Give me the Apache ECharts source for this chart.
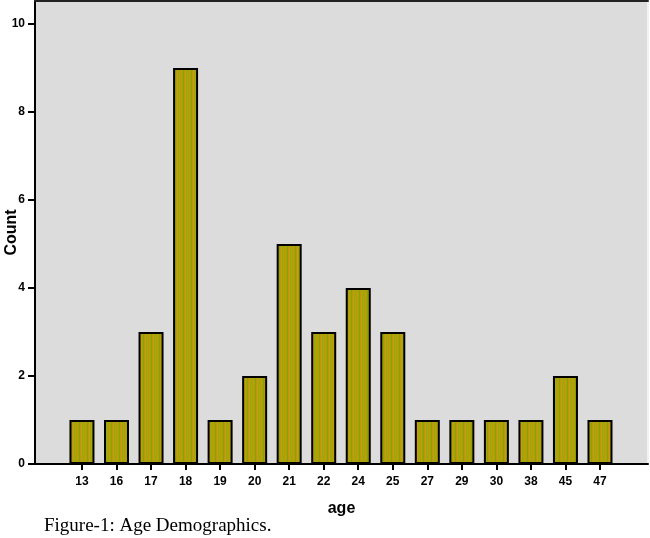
<!DOCTYPE html>
<html>
<head>
<meta charset="utf-8">
<script src="https://cdn.jsdelivr.net/npm/echarts@6/dist/echarts.min.js"></script>
<style>
html,body{margin:0;padding:0;background:#fff;}
#c{width:650px;height:538px;}
</style>
</head>
<body>
<div id="c"></div>
<script>
const ageLabels = ['13','16','17','18','19','20','21','22','24','25','27','29','30','38','45','47'];
const counts    = [1, 1, 3, 9, 1, 2, 5, 3, 4, 3, 1, 1, 1, 1, 2, 1];
const yTicks    = [0, 2, 4, 6, 8, 10];

const idx = ageLabels.map((_, i) => i);
const seriesData = counts.map((v, i) => [i, v]);

// striped fill pattern for bars
const pc = document.createElement('canvas');
pc.width = 8; pc.height = 4;
const g = pc.getContext('2d');
g.fillStyle = '#a9a204'; g.fillRect(0, 0, 8, 4);
g.fillStyle = '#d4921e'; g.fillRect(1, 0, 1, 4);
g.fillStyle = '#9aac10'; g.fillRect(3, 0, 1, 4);
g.fillStyle = '#c09c08'; g.fillRect(5, 0, 1, 4);
g.fillStyle = '#929e08'; g.fillRect(7, 0, 1, 4);

const chart = echarts.init(document.getElementById('c'), null, {renderer: 'canvas'});
const bold = {fontFamily: 'Liberation Sans, Arial, sans-serif', fontWeight: 'bold', color: '#000'};

chart.setOption({
  animation: false,
  backgroundColor: '#fff',
  grid: {
    left: 35, top: 1, right: 2, bottom: 74,
    outerBoundsMode: 'none',
    containLabel: false,
    show: true, backgroundColor: '#dcdcdc', borderWidth: 0
  },
  xAxis: [{
    type: 'value',
    min: -1.36, max: 16.39,
    position: 'bottom',
    name: 'age',
    nameLocation: 'middle',
    nameGap: 37,
    nameMoveOverlap: false,
    nameTextStyle: Object.assign({fontSize: 16}, bold),
    splitLine: {show: false},
    axisLine: {show: true, onZero: false, lineStyle: {color: '#000', width: 2}},
    axisTick: {show: true, customValues: idx, length: 6, lineStyle: {color: '#000', width: 2}},
    axisLabel: Object.assign({
      customValues: idx, fontSize: 12, margin: 12,
      formatter: v => ageLabels[Math.round(v)]
    }, bold)
  }, {
    type: 'value',
    min: -1.36, max: 16.39,
    position: 'top',
    splitLine: {show: false},
    axisLine: {show: true, onZero: false, lineStyle: {color: '#222', width: 2}},
    axisTick: {show: false},
    axisLabel: {show: false}
  }],
  yAxis: [{
    type: 'value',
    min: 0, max: 10.52,
    position: 'left',
    name: 'Count',
    nameLocation: 'middle',
    nameGap: 15,
    nameMoveOverlap: false,
    nameRotate: 90,
    nameTextStyle: Object.assign({fontSize: 16}, bold),
    splitLine: {show: false},
    axisLine: {show: true, onZero: false, lineStyle: {color: '#000', width: 2}},
    axisTick: {show: true, customValues: yTicks, length: 7, lineStyle: {color: '#000', width: 2}},
    axisLabel: Object.assign({customValues: yTicks, fontSize: 12, margin: 10}, bold)
  }, {
    type: 'value',
    min: 0, max: 10.52,
    position: 'right',
    splitLine: {show: false},
    axisLine: {show: true, onZero: false, lineStyle: {color: '#f2f2f2', width: 2}},
    axisTick: {show: false},
    axisLabel: {show: false}
  }],
  series: [{
    type: 'bar',
    xAxisIndex: 0,
    yAxisIndex: 0,
    barWidth: 25,
    data: seriesData,
    itemStyle: {
      color: {image: pc, repeat: 'repeat'},
      borderColor: '#000',
      borderWidth: 2
    }
  }],
  graphic: [{
    type: 'text',
    left: 44, top: 517,
    style: {
      text: 'Figure-1: Age Demographics.',
      font: '19px "Liberation Serif", "Times New Roman", serif',
      fill: '#000'
    }
  }]
});
</script>
</body>
</html>
